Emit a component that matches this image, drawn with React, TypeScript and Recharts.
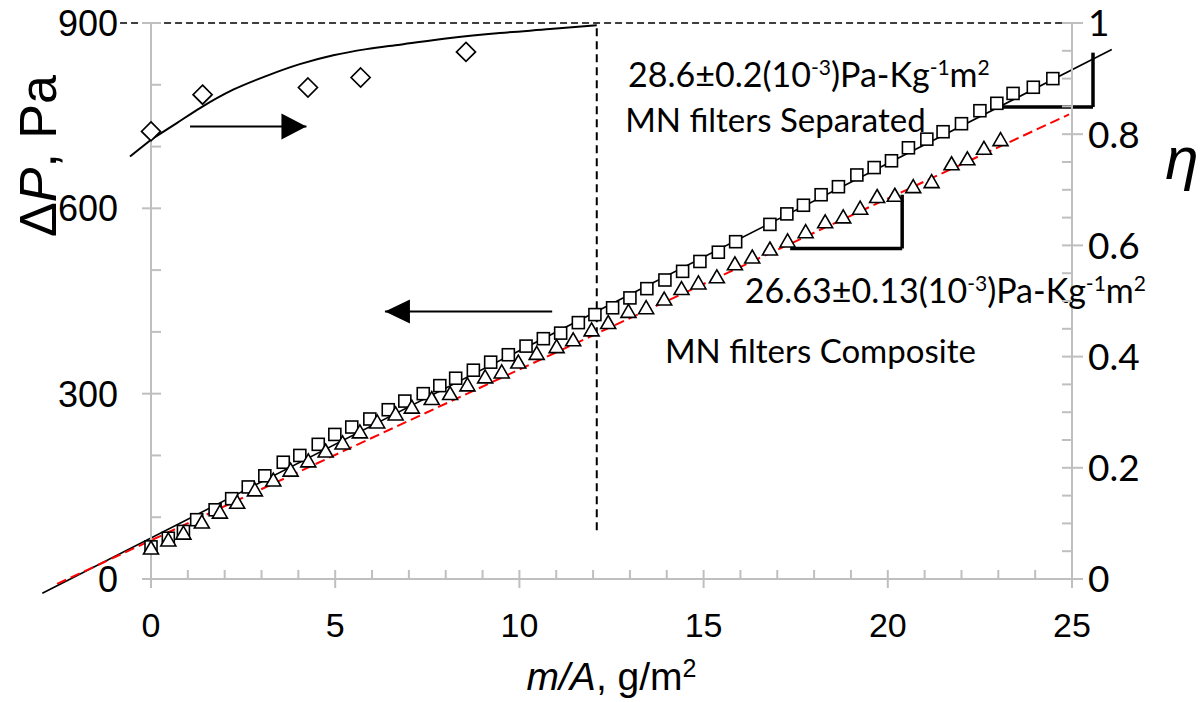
import React from 'react';
import { ComposedChart, Scatter, Line, XAxis, YAxis, ReferenceLine, ReferenceDot } from 'recharts';

// MN filters Separated (squares): m/A [g/m2] vs ΔP [Pa]
const sepX = [0, 0.47, 0.88, 1.24, 1.74, 2.19, 2.64, 3.09, 3.59, 4.04, 4.54, 4.99, 5.45, 5.94, 6.44, 6.89, 7.39, 7.84, 8.27, 8.75, 9.22, 9.7, 10.18, 10.65, 11.12, 11.6, 12.05, 12.53, 13.0, 13.46, 13.95, 14.43, 14.9, 15.4, 15.87, 16.8, 17.26, 17.71, 18.19, 18.66, 19.16, 19.63, 20.1, 20.56, 21.06, 21.5, 22.0, 22.5, 22.96, 23.4, 23.95, 24.48];
const sepY = [52, 66, 77, 96, 112, 130, 149, 167, 189, 200, 218, 234, 246, 259, 274, 288, 300, 313, 325, 338, 351, 363, 377, 389, 398, 415, 428, 439, 455, 470, 484, 498, 514, 529, 546, 574, 591, 605, 622, 635, 654, 666, 677, 698, 712, 724, 737, 758, 770, 786, 796, 810];

// MN filters Composite (triangles)
const compX = [0, 0.47, 0.88, 1.38, 1.87, 2.34, 2.82, 3.32, 3.79, 4.27, 4.74, 5.2, 5.67, 6.14, 6.64, 7.08, 7.62, 8.12, 8.59, 9.07, 9.52, 9.97, 10.47, 11.01, 11.46, 11.96, 12.41, 12.96, 13.44, 13.93, 14.4, 14.86, 15.36, 15.85, 16.32, 16.8, 17.28, 17.77, 18.3, 18.79, 19.25, 19.71, 20.19, 20.69, 21.19, 21.73, 22.16, 22.61, 23.06];
const compY = [51, 64, 75, 93, 109, 125, 145, 161, 177, 192, 208, 221, 239, 255, 268, 279, 293, 301, 315, 328, 336, 352, 366, 377, 388, 404, 416, 434, 440, 454, 471, 480, 490, 511, 522, 535, 548, 563, 579, 587, 601, 620, 622, 636, 644, 673, 681, 698, 712];

// Efficiency η (diamonds) and its trend curve
const effX = [0, 1.4, 4.26, 5.69, 8.55];
const effY = [0.805, 0.871, 0.884, 0.902, 0.948];
const curveX = [0, 0.7, 1.33, 2.23, 3.14, 4.04, 4.95, 5.85, 6.76, 8.12, 9.47, 10.83, 12.1];
const curveY = [0.79, 0.82, 0.847, 0.88, 0.905, 0.926, 0.942, 0.953, 0.961, 0.973, 0.982, 0.989, 0.996];
const curveLeadX = [-0.57, 0];
const curveLeadY = [0.76, 0.79];

// Linear fits (extend past the axes)
const fitSepX = [-2.95, 26.08];
const fitSepY = [-23, 857];
const fitCompX = [-2.55, 24.92];
const fitCompY = [-8, 752];

// Slope triangles
const slopeSepX = [23.0, 25.57];
const slopeSepY = [764, 852];
const slopeCompX = [17.35, 20.39];
const slopeCompY = [535, 622];

// Guide lines and arrows
const guideHX = [-0.84, 25];
const guideHY = 900;
const guideVX = 12.1;
const guideVY = [79, 900];
const arrowEffX = [1.06, 4.22];
const arrowEffY = 0.814;
const arrowDPX = [10.89, 6.35];
const arrowDPY = 433;

// Ticks
const xTicks = [0, 1, 2, 3, 4, 5, 6, 7, 8, 9, 10, 11, 12, 13, 14, 15, 16, 17, 18, 19, 20, 21, 22, 23, 24, 25];
const leftTicks = [0, 100, 200, 300, 400, 500, 600, 700, 800, 900];
const rightTicks = [0, 0.05, 0.1, 0.15, 0.2, 0.25, 0.3, 0.35, 0.4, 0.45, 0.5, 0.55, 0.6, 0.65, 0.7, 0.75, 0.8, 0.85, 0.9, 0.95, 1];

// Annotation texts
const annSep = { x: 12.95, y: 797, value: '28.6±0.2(10', sup1: '-3', mid: ')Pa-Kg', sup2: '-1', unit: 'm', sup3: '2' };
const annSepName = { x: 12.87, y: 724, text: 'MN filters Separated' };
const annComp = { x: 16.12, y: 447, value: '26.63±0.13(10', sup1: '-3', mid: ')Pa-Kg', sup2: '-1', unit: 'm', sup3: '2' };
const annCompName = { x: 13.95, y: 350, text: 'MN filters Composite' };

const zip = (xs: number[], ys: number[]) => xs.map((x, i) => ({ x, y: ys[i] }));
const sepData = zip(sepX, sepY);
const compData = zip(compX, compY);
const effData = zip(effX, effY);
const curveData = zip(curveX, curveY);

const GRAY = '#bfbfbf';
const ARIAL = '"Liberation Sans", Arial, sans-serif';
const CAL = 'Lato, "Open Sans", sans-serif';

const isMult = (v: number, m: number) => Math.abs(v / m - Math.round(v / m)) < 1e-6;

function XTick(props: any) {
  const { x, y, payload } = props;
  const v = payload.value;
  const major = isMult(v, 5);
  return (
    <g>
      <line x1={x} x2={x} y1={y - 9} y2={major ? y + 9 : y} stroke={GRAY} strokeWidth={2} />
      {major && (
        <text x={x} y={y + 58} textAnchor="middle" fontFamily={ARIAL} fontSize={34} fill="#000">
          {v}
        </text>
      )}
    </g>
  );
}

function LTick(props: any) {
  const { x, y, payload } = props;
  const v = payload.value;
  const major = isMult(v, 300);
  return (
    <g>
      <line x1={major ? x - 9 : x} x2={x + 10} y1={y} y2={y} stroke={GRAY} strokeWidth={2} />
      {major && (
        <text x={x - 33} y={y} dy="0.36em" textAnchor="end" fontFamily={ARIAL} fontSize={36} fill="#000">
          {v}
        </text>
      )}
    </g>
  );
}

function RTick(props: any) {
  const { x, y, payload } = props;
  const v = payload.value;
  const major = isMult(v, 0.2);
  const label = v === 0 ? '0' : v === 1 ? '1' : v.toFixed(1);
  return (
    <g>
      <line x1={x - 10} x2={major ? x + 11 : x} y1={y} y2={y} stroke={GRAY} strokeWidth={2} />
      {major && (
        <text x={x + 16} y={y} dy="0.36em" textAnchor="start" fontFamily={CAL} fontSize={37} fill="#000">
          {label}
        </text>
      )}
    </g>
  );
}

const squareShape = (p: any) => (
  <rect x={p.cx - 6} y={p.cy - 6} width={12} height={12} fill="#fff" stroke="#000" strokeWidth={1.6} />
);
const triangleShape = (p: any) => (
  <polygon
    points={`${p.cx},${p.cy - 6.5} ${p.cx + 7.5},${p.cy + 6.5} ${p.cx - 7.5},${p.cy + 6.5}`}
    fill="#fff"
    stroke="#000"
    strokeWidth={1.6}
    strokeLinejoin="miter"
  />
);
const diamondShape = (p: any) => (
  <polygon
    points={`${p.cx},${p.cy - 9.5} ${p.cx + 9.5},${p.cy} ${p.cx},${p.cy + 9.5} ${p.cx - 9.5},${p.cy}`}
    fill="#fff"
    stroke="#000"
    strokeWidth={1.7}
  />
);

const headRight = (p: any) => (
  <polygon points={`${p.cx},${p.cy} ${p.cx - 25},${p.cy - 13} ${p.cx - 25},${p.cy + 13}`} fill="#000" />
);
const headLeft = (p: any) => (
  <polygon points={`${p.cx},${p.cy} ${p.cx + 25},${p.cy - 12} ${p.cx + 25},${p.cy + 12}`} fill="#000" />
);

const slopeText = (a: typeof annSep) => (p: any) => (
  <text x={p.cx} y={p.cy} fontFamily={CAL} fontSize={34} fill="#000">
    {a.value}
    <tspan dy={-12} fontSize={21}>{a.sup1}</tspan>
    <tspan dy={12}>{a.mid}</tspan>
    <tspan dy={-12} fontSize={21}>{a.sup2}</tspan>
    <tspan dy={12}>{a.unit}</tspan>
    <tspan dy={-12} fontSize={21}>{a.sup3}</tspan>
  </text>
);
const nameText = (t: string) => (p: any) => (
  <text x={p.cx} y={p.cy} fontFamily={CAL} fontSize={33} fill="#000">
    {t}
  </text>
);

export default function App() {
  return (
    <div style={{ position: 'absolute', left: 0, top: 0, background: '#fff' }}>
      <ComposedChart width={1202} height={702} margin={{ top: 23, right: 0, bottom: 0, left: 0 }}>
        <XAxis
          type="number"
          dataKey="x"
          domain={[0, 25]}
          ticks={xTicks}
          interval={0}
          height={123}
          tickSize={0}
          tickMargin={0}
          tickLine={false}
          axisLine={{ stroke: GRAY, strokeWidth: 2 }}
          tick={(p: any) => <XTick {...p} />}
          label={{
            content: (p: any) => {
              const vb = p.viewBox;
              return (
                <text x={vb.x + vb.width / 2} y={vb.y + 111} textAnchor="middle" fontFamily={ARIAL} fontSize={39} fill="#000">
                  <tspan fontStyle="italic">m/A</tspan>, g/m
                  <tspan dy={-13} fontSize={25}>2</tspan>
                </text>
              );
            },
          }}
        />
        <YAxis
          yAxisId="L"
          type="number"
          dataKey="y"
          domain={[0, 900]}
          ticks={leftTicks}
          interval={0}
          width={151}
          tickSize={0}
          tickMargin={0}
          tickLine={false}
          axisLine={{ stroke: GRAY, strokeWidth: 2 }}
          tick={(p: any) => <LTick {...p} />}
          label={{
            content: (p: any) => {
              const vb = p.viewBox;
              const cx = vb.x + 56;
              const cy = vb.y + 133;
              return (
                <text x={cx} y={cy} transform={`rotate(-90, ${cx}, ${cy})`} textAnchor="middle" fontFamily={ARIAL} fontSize={52} fill="#000">
                  Δ<tspan fontStyle="italic">P</tspan>, Pa
                </text>
              );
            },
          }}
        />
        <YAxis
          yAxisId="R"
          orientation="right"
          type="number"
          dataKey="y"
          domain={[0, 1]}
          ticks={rightTicks}
          interval={0}
          width={130}
          tickSize={0}
          tickMargin={0}
          tickLine={false}
          axisLine={{ stroke: GRAY, strokeWidth: 2 }}
          tick={(p: any) => <RTick {...p} />}
          label={{
            content: (p: any) => {
              const vb = p.viewBox;
              return (
                <text x={vb.x + 110} y={vb.y + 156} textAnchor="middle" fontFamily={ARIAL} fontStyle="italic" fontSize={60} fill="#000">
                  η
                </text>
              );
            },
          }}
        />

        {/* dashed guide lines */}
        <ReferenceLine
          yAxisId="L"
          ifOverflow="visible"
          segment={[{ x: guideHX[0], y: guideHY }, { x: guideHX[1], y: guideHY }]}
          stroke="#000"
          strokeWidth={1.5}
          strokeDasharray="7 4"
        />
        <ReferenceLine
          yAxisId="L"
          ifOverflow="visible"
          segment={[{ x: guideVX, y: guideVY[0] }, { x: guideVX, y: guideVY[1] }]}
          stroke="#000"
          strokeWidth={2}
          strokeDasharray="8 5"
        />

        {/* linear fits */}
        <ReferenceLine
          yAxisId="L"
          ifOverflow="visible"
          segment={[{ x: fitSepX[0], y: fitSepY[0] }, { x: fitSepX[1], y: fitSepY[1] }]}
          stroke="#000"
          strokeWidth={1.6}
        />
        <ReferenceLine
          yAxisId="L"
          ifOverflow="visible"
          segment={[{ x: fitCompX[0], y: fitCompY[0] }, { x: fitCompX[1], y: fitCompY[1] }]}
          stroke="#ff0000"
          strokeWidth={2}
          strokeDasharray="10 5"
        />

        {/* efficiency curve lead-in (left of the y axis) */}
        <ReferenceLine
          yAxisId="R"
          ifOverflow="visible"
          segment={[{ x: curveLeadX[0], y: curveLeadY[0] }, { x: curveLeadX[1], y: curveLeadY[1] }]}
          stroke="#000"
          strokeWidth={2}
        />
        <Line
          data={curveData}
          yAxisId="R"
          dataKey="y"
          type="monotone"
          stroke="#000"
          strokeWidth={2}
          dot={false}
          activeDot={false}
          isAnimationActive={false}
        />

        {/* slope triangles */}
        <ReferenceLine
          yAxisId="L"
          ifOverflow="visible"
          segment={[{ x: slopeSepX[0], y: slopeSepY[0] }, { x: slopeSepX[1], y: slopeSepY[0] }]}
          stroke="#000"
          strokeWidth={3.5}
        />
        <ReferenceLine
          yAxisId="L"
          ifOverflow="visible"
          segment={[{ x: slopeSepX[1], y: slopeSepY[0] }, { x: slopeSepX[1], y: slopeSepY[1] }]}
          stroke="#000"
          strokeWidth={3.5}
        />
        <ReferenceLine
          yAxisId="L"
          ifOverflow="visible"
          segment={[{ x: slopeCompX[0], y: slopeCompY[0] }, { x: slopeCompX[1], y: slopeCompY[0] }]}
          stroke="#000"
          strokeWidth={3.5}
        />
        <ReferenceLine
          yAxisId="L"
          ifOverflow="visible"
          segment={[{ x: slopeCompX[1], y: slopeCompY[0] }, { x: slopeCompX[1], y: slopeCompY[1] }]}
          stroke="#000"
          strokeWidth={3.5}
        />

        {/* arrows */}
        <ReferenceLine
          yAxisId="R"
          ifOverflow="visible"
          segment={[{ x: arrowEffX[0], y: arrowEffY }, { x: arrowEffX[1], y: arrowEffY }]}
          stroke="#000"
          strokeWidth={2}
        />
        <ReferenceDot yAxisId="R" x={arrowEffX[1]} y={arrowEffY} r={0} ifOverflow="visible" shape={headRight} />
        <ReferenceLine
          yAxisId="L"
          ifOverflow="visible"
          segment={[{ x: arrowDPX[0], y: arrowDPY }, { x: arrowDPX[1], y: arrowDPY }]}
          stroke="#000"
          strokeWidth={2}
        />
        <ReferenceDot yAxisId="L" x={arrowDPX[1]} y={arrowDPY} r={0} ifOverflow="visible" shape={headLeft} />

        {/* data */}
        <Scatter data={sepData} yAxisId="L" shape={squareShape} isAnimationActive={false} />
        <Scatter data={compData} yAxisId="L" shape={triangleShape} isAnimationActive={false} />
        <Scatter data={effData} yAxisId="R" shape={diamondShape} isAnimationActive={false} />

        {/* annotations */}
        <ReferenceDot yAxisId="L" x={annSep.x} y={annSep.y} r={0} ifOverflow="visible" shape={slopeText(annSep)} />
        <ReferenceDot yAxisId="L" x={annSepName.x} y={annSepName.y} r={0} ifOverflow="visible" shape={nameText(annSepName.text)} />
        <ReferenceDot yAxisId="L" x={annComp.x} y={annComp.y} r={0} ifOverflow="visible" shape={slopeText(annComp)} />
        <ReferenceDot yAxisId="L" x={annCompName.x} y={annCompName.y} r={0} ifOverflow="visible" shape={nameText(annCompName.text)} />
      </ComposedChart>
    </div>
  );
}
